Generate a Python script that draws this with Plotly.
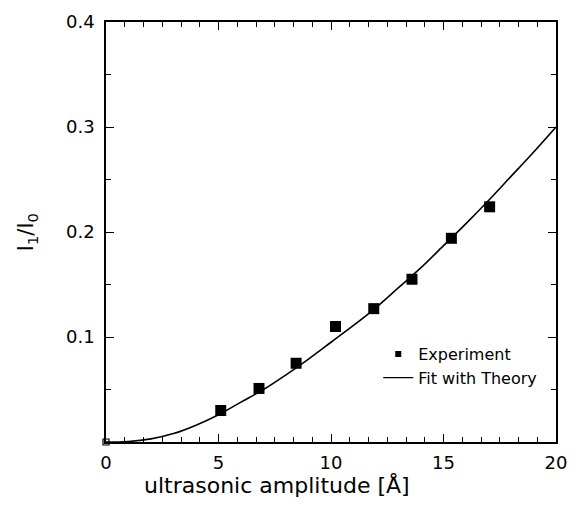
import plotly.graph_objects as go

# Experimental data
exp_x = [5.1, 6.8, 8.45, 10.2, 11.9, 13.6, 15.35, 17.05]
exp_y = [0.030, 0.051, 0.075, 0.110, 0.127, 0.155, 0.194, 0.224]

# Point at origin
origin_x = [0.0]
origin_y = [0.0]

# Theory fit curve
fit_x = [0, 1, 2, 3, 4, 5, 6, 7, 8, 9, 10, 11, 12, 13, 14, 15, 16, 17, 18, 19, 20]
fit_y = [0.0, 0.0005, 0.003, 0.008, 0.016, 0.026, 0.038, 0.050, 0.064, 0.079,
         0.095, 0.111, 0.128, 0.147, 0.166, 0.187, 0.208, 0.230, 0.253, 0.276, 0.300]

x_ticks = [0, 5, 10, 15, 20]
y_ticks = [0.1, 0.2, 0.3, 0.4]
y_tick_text = ["0.1", "0.2", "0.3", "0.4"]

FONT = "DejaVu Sans, Liberation Sans, sans-serif"

fig = go.Figure()

fig.add_trace(go.Scatter(
    x=fit_x, y=fit_y, mode="lines", line=dict(color="black", width=1.6, shape="spline"),
    showlegend=False, hoverinfo="skip"))

fig.add_trace(go.Scatter(
    x=exp_x, y=exp_y, mode="markers",
    marker=dict(symbol="square", size=11, color="black"),
    showlegend=False))

fig.add_trace(go.Scatter(
    x=origin_x, y=origin_y, mode="markers",
    marker=dict(symbol="square-open", size=6, color="black", line=dict(width=1.2)),
    showlegend=False, cliponaxis=False))

# legend proxies
fig.add_trace(go.Scatter(
    x=[None], y=[None], mode="markers", name="Experiment",
    marker=dict(symbol="square", size=6, color="black")))
fig.add_trace(go.Scatter(
    x=[None], y=[None], mode="lines", name="Fit with Theory",
    line=dict(color="black", width=1.2)))

fig.update_layout(
    width=582, height=506,
    margin=dict(l=106, r=26, t=11, b=64),
    paper_bgcolor="white", plot_bgcolor="white",
    font=dict(family=FONT, color="black"),
    legend=dict(x=0.605, y=0.25, xanchor="left", yanchor="top",
                bgcolor="rgba(0,0,0,0)", font=dict(size=16, family=FONT),
                tracegroupgap=0, itemwidth=30),
    xaxis=dict(
        range=[0, 20], tickvals=x_ticks, ticktext=[str(v) for v in x_ticks],
        ticks="inside", ticklen=8, tickwidth=1, tickcolor="black",
        minor=dict(dtick=5/6, tick0=0, ticks="inside", ticklen=5, tickcolor="black", tickwidth=1),
        showline=True, linecolor="black", linewidth=1.5, mirror="allticks",
        showgrid=False, zeroline=False,
        tickfont=dict(size=18), ticklabelstandoff=4,
    ),
    yaxis=dict(
        range=[0, 0.4], tickvals=y_ticks, ticktext=y_tick_text,
        ticks="inside", ticklen=8, tickwidth=1, tickcolor="black",
        minor=dict(dtick=0.05, tick0=0, ticks="inside", ticklen=5, tickcolor="black", tickwidth=1),
        showline=True, linecolor="black", linewidth=1.5, mirror="allticks",
        showgrid=False, zeroline=False,
        tickfont=dict(size=18), ticklabelstandoff=6,
    ),
    annotations=[
        dict(text="ultrasonic amplitude [Å]", xref="paper", yref="paper",
             x=0.38, y=-0.103, xanchor="center", yanchor="middle",
             showarrow=False, font=dict(size=22, family=FONT)),
        dict(text="I<sub>1</sub>/I<sub>0</sub>", xref="paper", yref="paper",
             x=-0.175, y=0.5, xanchor="center", yanchor="middle", textangle=-90,
             showarrow=False, font=dict(size=21, family=FONT)),
    ],
)

fig.write_html("out.html")
